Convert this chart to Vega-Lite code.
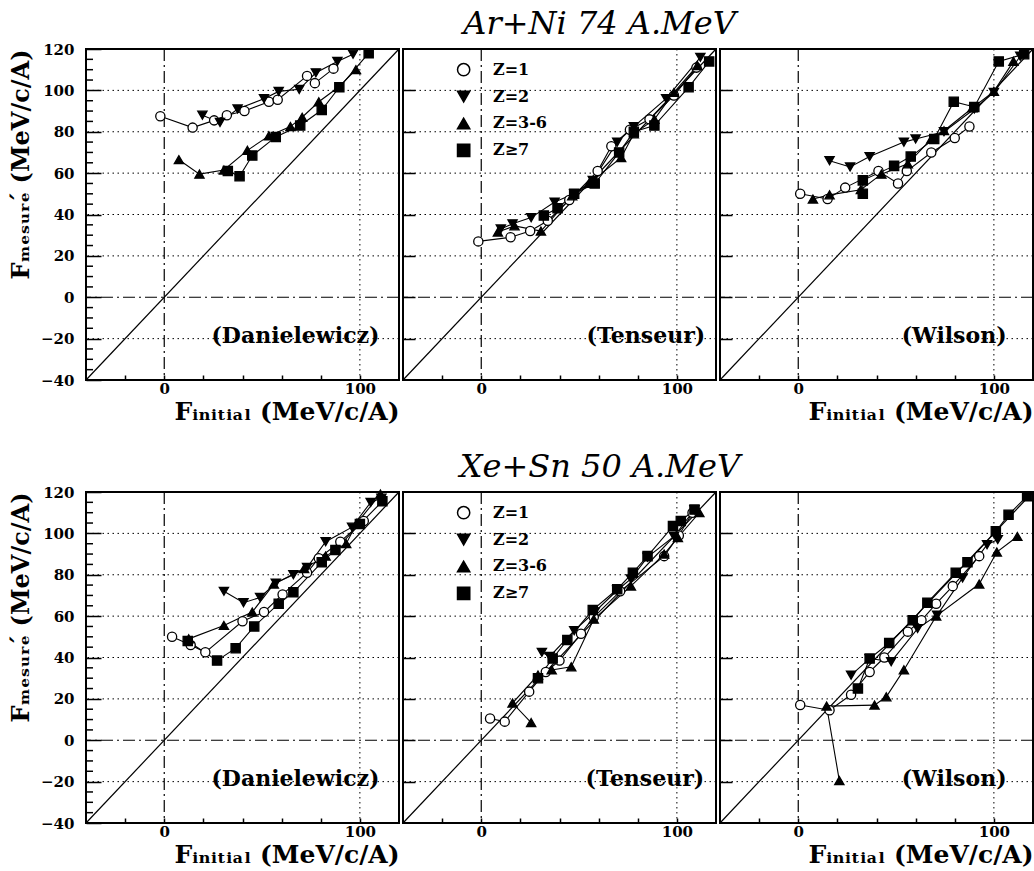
{
  "$schema": "https://vega.github.io/schema/vega-lite/v6.json",
  "background": "white",
  "padding": {"left": 8, "top": 8, "right": 0, "bottom": 0},
  "config": {
    "view": {"stroke": "black", "strokeWidth": 2},
    "concat": {"spacing": 0}
  },
  "datasets": {
    "grid": [
      {"dir": "h", "v": -20}, {"dir": "h", "v": 0}, {"dir": "h", "v": 20}, {"dir": "h", "v": 40},
      {"dir": "h", "v": 60}, {"dir": "h", "v": 80}, {"dir": "h", "v": 100},
      {"dir": "v", "v": 0}, {"dir": "v", "v": 100}
    ],
    "minor": [
      {"v": -35}, {"v": -30}, {"v": -25}, {"v": -15}, {"v": -10}, {"v": -5}, {"v": 5}, {"v": 10},
      {"v": 15}, {"v": 25}, {"v": 30}, {"v": 35}, {"v": 45}, {"v": 50}, {"v": 55}, {"v": 65},
      {"v": 70}, {"v": 75}, {"v": 85}, {"v": 90}, {"v": 95}, {"v": 105}, {"v": 110}, {"v": 115}
    ],
    "diag": [{"x": -40, "y": -40, "x2": 120, "y2": 120}],
    "methods": [
      {"r": "ArNi", "m": "D", "label": "(Danielewicz)", "x": 110, "y": -22},
      {"r": "ArNi", "m": "T", "label": "(Tenseur)", "x": 114.5, "y": -22},
      {"r": "ArNi", "m": "W", "label": "(Wilson)", "x": 106.5, "y": -22},
      {"r": "XeSn", "m": "D", "label": "(Danielewicz)", "x": 110, "y": -22},
      {"r": "XeSn", "m": "T", "label": "(Tenseur)", "x": 114, "y": -22},
      {"r": "XeSn", "m": "W", "label": "(Wilson)", "x": 106.5, "y": -22}
    ],
    "legend": [
      {"Z": "Z=1", "x": -9, "y": 110, "tx": 6},
      {"Z": "Z=2", "x": -9, "y": 97, "tx": 6},
      {"Z": "Z=3-6", "x": -9, "y": 84, "tx": 6},
      {"Z": "Z≥7", "x": -9, "y": 71, "tx": 6}
    ],
    "pts": [
      {"r":"ArNi","m":"D","Z":"Z=1","i":1,"x":-2,"y":87.5},{"r":"ArNi","m":"D","Z":"Z=1","i":2,"x":14.5,"y":82},{"r":"ArNi","m":"D","Z":"Z=1","i":3,"x":25.5,"y":85.5},{"r":"ArNi","m":"D","Z":"Z=1","i":4,"x":32,"y":88},{"r":"ArNi","m":"D","Z":"Z=1","i":5,"x":41,"y":90},{"r":"ArNi","m":"D","Z":"Z=1","i":6,"x":53.5,"y":94.5},{"r":"ArNi","m":"D","Z":"Z=1","i":7,"x":58,"y":95.5},{"r":"ArNi","m":"D","Z":"Z=1","i":8,"x":73,"y":107},{"r":"ArNi","m":"D","Z":"Z=1","i":9,"x":77,"y":103.5},{"r":"ArNi","m":"D","Z":"Z=1","i":10,"x":86.5,"y":110.5},
      {"r":"ArNi","m":"D","Z":"Z=2","i":1,"x":19.5,"y":88},{"r":"ArNi","m":"D","Z":"Z=2","i":2,"x":28.5,"y":84.5},{"r":"ArNi","m":"D","Z":"Z=2","i":3,"x":37.5,"y":91},{"r":"ArNi","m":"D","Z":"Z=2","i":4,"x":51,"y":96},{"r":"ArNi","m":"D","Z":"Z=2","i":5,"x":58.5,"y":99.5},{"r":"ArNi","m":"D","Z":"Z=2","i":6,"x":69,"y":100.5},{"r":"ArNi","m":"D","Z":"Z=2","i":7,"x":77.5,"y":108.5},{"r":"ArNi","m":"D","Z":"Z=2","i":8,"x":88.5,"y":114},{"r":"ArNi","m":"D","Z":"Z=2","i":9,"x":96.5,"y":117.5},
      {"r":"ArNi","m":"D","Z":"Z=3-6","i":1,"x":7.5,"y":66.5},{"r":"ArNi","m":"D","Z":"Z=3-6","i":2,"x":18,"y":59.5},{"r":"ArNi","m":"D","Z":"Z=3-6","i":3,"x":30.5,"y":61.5},{"r":"ArNi","m":"D","Z":"Z=3-6","i":4,"x":42.5,"y":71},{"r":"ArNi","m":"D","Z":"Z=3-6","i":5,"x":53.5,"y":78},{"r":"ArNi","m":"D","Z":"Z=3-6","i":6,"x":64.5,"y":82.5},{"r":"ArNi","m":"D","Z":"Z=3-6","i":7,"x":70.5,"y":87},{"r":"ArNi","m":"D","Z":"Z=3-6","i":8,"x":79,"y":94.5},{"r":"ArNi","m":"D","Z":"Z=3-6","i":9,"x":89,"y":101.5},{"r":"ArNi","m":"D","Z":"Z=3-6","i":10,"x":98,"y":110},
      {"r":"ArNi","m":"D","Z":"Z≥7","i":1,"x":32.5,"y":61},{"r":"ArNi","m":"D","Z":"Z≥7","i":2,"x":38.5,"y":58.5},{"r":"ArNi","m":"D","Z":"Z≥7","i":3,"x":45,"y":68.5},{"r":"ArNi","m":"D","Z":"Z≥7","i":4,"x":57,"y":77.5},{"r":"ArNi","m":"D","Z":"Z≥7","i":5,"x":69.5,"y":83},{"r":"ArNi","m":"D","Z":"Z≥7","i":6,"x":80.5,"y":90.5},{"r":"ArNi","m":"D","Z":"Z≥7","i":7,"x":89.5,"y":101.5},{"r":"ArNi","m":"D","Z":"Z≥7","i":8,"x":104.5,"y":118},

      {"r":"ArNi","m":"T","Z":"Z=1","i":1,"x":-1.5,"y":27},{"r":"ArNi","m":"T","Z":"Z=1","i":2,"x":15,"y":29},{"r":"ArNi","m":"T","Z":"Z=1","i":3,"x":25,"y":32},{"r":"ArNi","m":"T","Z":"Z=1","i":4,"x":34,"y":37},{"r":"ArNi","m":"T","Z":"Z=1","i":5,"x":45,"y":47},{"r":"ArNi","m":"T","Z":"Z=1","i":6,"x":59.5,"y":61},{"r":"ArNi","m":"T","Z":"Z=1","i":7,"x":66.5,"y":73},{"r":"ArNi","m":"T","Z":"Z=1","i":8,"x":76,"y":81},{"r":"ArNi","m":"T","Z":"Z=1","i":9,"x":86,"y":86},{"r":"ArNi","m":"T","Z":"Z=1","i":10,"x":98.5,"y":97.5},{"r":"ArNi","m":"T","Z":"Z=1","i":11,"x":110,"y":111},
      {"r":"ArNi","m":"T","Z":"Z=2","i":1,"x":10,"y":33},{"r":"ArNi","m":"T","Z":"Z=2","i":2,"x":16,"y":35.5},{"r":"ArNi","m":"T","Z":"Z=2","i":3,"x":25.5,"y":38.5},{"r":"ArNi","m":"T","Z":"Z=2","i":4,"x":37.5,"y":46},{"r":"ArNi","m":"T","Z":"Z=2","i":5,"x":47.5,"y":50},{"r":"ArNi","m":"T","Z":"Z=2","i":6,"x":57,"y":56.5},{"r":"ArNi","m":"T","Z":"Z=2","i":7,"x":69.5,"y":75},{"r":"ArNi","m":"T","Z":"Z=2","i":8,"x":78,"y":82.5},{"r":"ArNi","m":"T","Z":"Z=2","i":9,"x":94.5,"y":96},{"r":"ArNi","m":"T","Z":"Z=2","i":10,"x":112,"y":116},
      {"r":"ArNi","m":"T","Z":"Z=3-6","i":1,"x":8.5,"y":31.5},{"r":"ArNi","m":"T","Z":"Z=3-6","i":2,"x":17,"y":34.5},{"r":"ArNi","m":"T","Z":"Z=3-6","i":3,"x":30.5,"y":32},{"r":"ArNi","m":"T","Z":"Z=3-6","i":4,"x":46.5,"y":49},{"r":"ArNi","m":"T","Z":"Z=3-6","i":5,"x":55,"y":55},{"r":"ArNi","m":"T","Z":"Z=3-6","i":6,"x":71.5,"y":67.5},{"r":"ArNi","m":"T","Z":"Z=3-6","i":7,"x":78,"y":79},{"r":"ArNi","m":"T","Z":"Z=3-6","i":8,"x":88.5,"y":86},{"r":"ArNi","m":"T","Z":"Z=3-6","i":9,"x":98.5,"y":99},{"r":"ArNi","m":"T","Z":"Z=3-6","i":10,"x":110.5,"y":112},
      {"r":"ArNi","m":"T","Z":"Z≥7","i":1,"x":32,"y":39.5},{"r":"ArNi","m":"T","Z":"Z≥7","i":2,"x":39,"y":43},{"r":"ArNi","m":"T","Z":"Z≥7","i":3,"x":47.5,"y":50},{"r":"ArNi","m":"T","Z":"Z≥7","i":4,"x":58,"y":55},{"r":"ArNi","m":"T","Z":"Z≥7","i":5,"x":70.5,"y":70},{"r":"ArNi","m":"T","Z":"Z≥7","i":6,"x":78,"y":80},{"r":"ArNi","m":"T","Z":"Z≥7","i":7,"x":88.5,"y":83},{"r":"ArNi","m":"T","Z":"Z≥7","i":8,"x":106,"y":101.5},{"r":"ArNi","m":"T","Z":"Z≥7","i":9,"x":116.5,"y":114},

      {"r":"ArNi","m":"W","Z":"Z=1","i":1,"x":1,"y":50},{"r":"ArNi","m":"W","Z":"Z=1","i":2,"x":15,"y":47.5},{"r":"ArNi","m":"W","Z":"Z=1","i":3,"x":24,"y":53},{"r":"ArNi","m":"W","Z":"Z=1","i":4,"x":41,"y":61},{"r":"ArNi","m":"W","Z":"Z=1","i":5,"x":51,"y":55},{"r":"ArNi","m":"W","Z":"Z=1","i":6,"x":55.5,"y":61},{"r":"ArNi","m":"W","Z":"Z=1","i":7,"x":68,"y":70},{"r":"ArNi","m":"W","Z":"Z=1","i":8,"x":80,"y":77},{"r":"ArNi","m":"W","Z":"Z=1","i":9,"x":87.5,"y":82.5},
      {"r":"ArNi","m":"W","Z":"Z=2","i":1,"x":16,"y":66},{"r":"ArNi","m":"W","Z":"Z=2","i":2,"x":26.5,"y":63},{"r":"ArNi","m":"W","Z":"Z=2","i":3,"x":36.5,"y":68},{"r":"ArNi","m":"W","Z":"Z=2","i":4,"x":54,"y":75},{"r":"ArNi","m":"W","Z":"Z=2","i":5,"x":60,"y":76.5},{"r":"ArNi","m":"W","Z":"Z=2","i":6,"x":74.5,"y":80},{"r":"ArNi","m":"W","Z":"Z=2","i":7,"x":90,"y":91},{"r":"ArNi","m":"W","Z":"Z=2","i":8,"x":100,"y":99},{"r":"ArNi","m":"W","Z":"Z=2","i":9,"x":113.5,"y":116.5},
      {"r":"ArNi","m":"W","Z":"Z=3-6","i":1,"x":7.5,"y":47.5},{"r":"ArNi","m":"W","Z":"Z=3-6","i":2,"x":16,"y":49.5},{"r":"ArNi","m":"W","Z":"Z=3-6","i":3,"x":32,"y":52},{"r":"ArNi","m":"W","Z":"Z=3-6","i":4,"x":42.5,"y":59.5},{"r":"ArNi","m":"W","Z":"Z=3-6","i":5,"x":56,"y":64.5},{"r":"ArNi","m":"W","Z":"Z=3-6","i":6,"x":68,"y":76.5},{"r":"ArNi","m":"W","Z":"Z=3-6","i":7,"x":74.5,"y":80.5},{"r":"ArNi","m":"W","Z":"Z=3-6","i":8,"x":89,"y":91.5},{"r":"ArNi","m":"W","Z":"Z=3-6","i":9,"x":100,"y":99.5},{"r":"ArNi","m":"W","Z":"Z=3-6","i":10,"x":110,"y":114},
      {"r":"ArNi","m":"W","Z":"Z≥7","i":1,"x":33,"y":50},{"r":"ArNi","m":"W","Z":"Z≥7","i":2,"x":33,"y":56.5},{"r":"ArNi","m":"W","Z":"Z≥7","i":3,"x":49,"y":63.5},{"r":"ArNi","m":"W","Z":"Z≥7","i":4,"x":57.5,"y":68},{"r":"ArNi","m":"W","Z":"Z≥7","i":5,"x":69.5,"y":76.5},{"r":"ArNi","m":"W","Z":"Z≥7","i":6,"x":79.5,"y":94.5},{"r":"ArNi","m":"W","Z":"Z≥7","i":7,"x":90,"y":92},{"r":"ArNi","m":"W","Z":"Z≥7","i":8,"x":102.5,"y":114},{"r":"ArNi","m":"W","Z":"Z≥7","i":9,"x":115.5,"y":117.5},

      {"r":"XeSn","m":"D","Z":"Z=1","i":1,"x":4,"y":50},{"r":"XeSn","m":"D","Z":"Z=1","i":2,"x":13.5,"y":46},{"r":"XeSn","m":"D","Z":"Z=1","i":3,"x":21,"y":42.5},{"r":"XeSn","m":"D","Z":"Z=1","i":4,"x":40,"y":57.5},{"r":"XeSn","m":"D","Z":"Z=1","i":5,"x":51,"y":62},{"r":"XeSn","m":"D","Z":"Z=1","i":6,"x":60.5,"y":70.5},{"r":"XeSn","m":"D","Z":"Z=1","i":7,"x":73,"y":81},{"r":"XeSn","m":"D","Z":"Z=1","i":8,"x":79,"y":88},{"r":"XeSn","m":"D","Z":"Z=1","i":9,"x":90,"y":96},{"r":"XeSn","m":"D","Z":"Z=1","i":10,"x":102,"y":106},
      {"r":"XeSn","m":"D","Z":"Z=2","i":1,"x":30.5,"y":72},{"r":"XeSn","m":"D","Z":"Z=2","i":2,"x":40.5,"y":66.5},{"r":"XeSn","m":"D","Z":"Z=2","i":3,"x":49,"y":69},{"r":"XeSn","m":"D","Z":"Z=2","i":4,"x":57,"y":76},{"r":"XeSn","m":"D","Z":"Z=2","i":5,"x":66,"y":80},{"r":"XeSn","m":"D","Z":"Z=2","i":6,"x":73,"y":83.5},{"r":"XeSn","m":"D","Z":"Z=2","i":7,"x":82.5,"y":96},{"r":"XeSn","m":"D","Z":"Z=2","i":8,"x":96,"y":103},{"r":"XeSn","m":"D","Z":"Z=2","i":9,"x":105.5,"y":115},{"r":"XeSn","m":"D","Z":"Z=2","i":10,"x":111,"y":117},
      {"r":"XeSn","m":"D","Z":"Z=3-6","i":1,"x":12.5,"y":49},{"r":"XeSn","m":"D","Z":"Z=3-6","i":2,"x":30.5,"y":55.5},{"r":"XeSn","m":"D","Z":"Z=3-6","i":3,"x":45,"y":62},{"r":"XeSn","m":"D","Z":"Z=3-6","i":4,"x":56,"y":75.5},{"r":"XeSn","m":"D","Z":"Z=3-6","i":5,"x":71.5,"y":83},{"r":"XeSn","m":"D","Z":"Z=3-6","i":6,"x":82.5,"y":89},{"r":"XeSn","m":"D","Z":"Z=3-6","i":7,"x":93,"y":95},{"r":"XeSn","m":"D","Z":"Z=3-6","i":8,"x":98.5,"y":105},{"r":"XeSn","m":"D","Z":"Z=3-6","i":9,"x":110.5,"y":119},
      {"r":"XeSn","m":"D","Z":"Z≥7","i":1,"x":12,"y":48},{"r":"XeSn","m":"D","Z":"Z≥7","i":2,"x":27,"y":38.5},{"r":"XeSn","m":"D","Z":"Z≥7","i":3,"x":36.5,"y":44.5},{"r":"XeSn","m":"D","Z":"Z≥7","i":4,"x":46,"y":55},{"r":"XeSn","m":"D","Z":"Z≥7","i":5,"x":58.5,"y":66},{"r":"XeSn","m":"D","Z":"Z≥7","i":6,"x":66,"y":71.5},{"r":"XeSn","m":"D","Z":"Z≥7","i":7,"x":80.5,"y":86},{"r":"XeSn","m":"D","Z":"Z≥7","i":8,"x":87.5,"y":92},{"r":"XeSn","m":"D","Z":"Z≥7","i":9,"x":100,"y":104.5},{"r":"XeSn","m":"D","Z":"Z≥7","i":10,"x":111.5,"y":115.5},

      {"r":"XeSn","m":"T","Z":"Z=1","i":1,"x":4.5,"y":10.5},{"r":"XeSn","m":"T","Z":"Z=1","i":2,"x":12,"y":9},{"r":"XeSn","m":"T","Z":"Z=1","i":3,"x":24.5,"y":23.5},{"r":"XeSn","m":"T","Z":"Z=1","i":4,"x":33,"y":33},{"r":"XeSn","m":"T","Z":"Z=1","i":5,"x":40,"y":38.5},{"r":"XeSn","m":"T","Z":"Z=1","i":6,"x":51,"y":51.5},{"r":"XeSn","m":"T","Z":"Z=1","i":7,"x":57.5,"y":59.5},{"r":"XeSn","m":"T","Z":"Z=1","i":8,"x":71,"y":72},{"r":"XeSn","m":"T","Z":"Z=1","i":9,"x":93.5,"y":89},{"r":"XeSn","m":"T","Z":"Z=1","i":10,"x":101,"y":99},{"r":"XeSn","m":"T","Z":"Z=1","i":11,"x":108,"y":110},
      {"r":"XeSn","m":"T","Z":"Z=2","i":1,"x":31,"y":42.5},{"r":"XeSn","m":"T","Z":"Z=2","i":2,"x":35,"y":40.5},{"r":"XeSn","m":"T","Z":"Z=2","i":3,"x":47.5,"y":53},{"r":"XeSn","m":"T","Z":"Z=2","i":4,"x":58,"y":62},{"r":"XeSn","m":"T","Z":"Z=2","i":5,"x":69.5,"y":72.5},{"r":"XeSn","m":"T","Z":"Z=2","i":6,"x":76.5,"y":78},{"r":"XeSn","m":"T","Z":"Z=2","i":7,"x":85,"y":88.5},{"r":"XeSn","m":"T","Z":"Z=2","i":8,"x":98.5,"y":98.5},{"r":"XeSn","m":"T","Z":"Z=2","i":9,"x":109,"y":111.5},
      {"r":"XeSn","m":"T","Z":"Z=3-6","i":1,"x":25.5,"y":8.5},{"r":"XeSn","m":"T","Z":"Z=3-6","i":2,"x":16,"y":18},{"r":"XeSn","m":"T","Z":"Z=3-6","i":3,"x":29,"y":31.5},{"r":"XeSn","m":"T","Z":"Z=3-6","i":4,"x":36,"y":34},{"r":"XeSn","m":"T","Z":"Z=3-6","i":5,"x":46,"y":35.5},{"r":"XeSn","m":"T","Z":"Z=3-6","i":6,"x":57.5,"y":58.5},{"r":"XeSn","m":"T","Z":"Z=3-6","i":7,"x":76.5,"y":74.5},{"r":"XeSn","m":"T","Z":"Z=3-6","i":8,"x":93.5,"y":90},{"r":"XeSn","m":"T","Z":"Z=3-6","i":9,"x":100.5,"y":98},{"r":"XeSn","m":"T","Z":"Z=3-6","i":10,"x":111.5,"y":110},
      {"r":"XeSn","m":"T","Z":"Z≥7","i":1,"x":29,"y":30},{"r":"XeSn","m":"T","Z":"Z≥7","i":2,"x":36.5,"y":39.5},{"r":"XeSn","m":"T","Z":"Z≥7","i":3,"x":44,"y":48.5},{"r":"XeSn","m":"T","Z":"Z≥7","i":4,"x":57,"y":63},{"r":"XeSn","m":"T","Z":"Z≥7","i":5,"x":69.5,"y":73},{"r":"XeSn","m":"T","Z":"Z≥7","i":6,"x":77.5,"y":81},{"r":"XeSn","m":"T","Z":"Z≥7","i":7,"x":85,"y":89},{"r":"XeSn","m":"T","Z":"Z≥7","i":8,"x":98,"y":103.5},{"r":"XeSn","m":"T","Z":"Z≥7","i":9,"x":102,"y":106},{"r":"XeSn","m":"T","Z":"Z≥7","i":10,"x":109,"y":111.5},

      {"r":"XeSn","m":"W","Z":"Z=1","i":1,"x":1,"y":17},{"r":"XeSn","m":"W","Z":"Z=1","i":2,"x":16,"y":14.5},{"r":"XeSn","m":"W","Z":"Z=1","i":3,"x":27,"y":22},{"r":"XeSn","m":"W","Z":"Z=1","i":4,"x":36.5,"y":33},{"r":"XeSn","m":"W","Z":"Z=1","i":5,"x":44,"y":40},{"r":"XeSn","m":"W","Z":"Z=1","i":6,"x":56,"y":52.5},{"r":"XeSn","m":"W","Z":"Z=1","i":7,"x":63,"y":58},{"r":"XeSn","m":"W","Z":"Z=1","i":8,"x":70.5,"y":66},{"r":"XeSn","m":"W","Z":"Z=1","i":9,"x":79,"y":74.5},{"r":"XeSn","m":"W","Z":"Z=1","i":10,"x":92.5,"y":89},
      {"r":"XeSn","m":"W","Z":"Z=2","i":1,"x":27,"y":31.5},{"r":"XeSn","m":"W","Z":"Z=2","i":2,"x":36.5,"y":39.5},{"r":"XeSn","m":"W","Z":"Z=2","i":3,"x":47.5,"y":38},{"r":"XeSn","m":"W","Z":"Z=2","i":4,"x":61,"y":54},{"r":"XeSn","m":"W","Z":"Z=2","i":5,"x":71,"y":60.5},{"r":"XeSn","m":"W","Z":"Z=2","i":6,"x":84,"y":78.5},{"r":"XeSn","m":"W","Z":"Z=2","i":7,"x":96.5,"y":94.5},{"r":"XeSn","m":"W","Z":"Z=2","i":8,"x":102,"y":97},
      {"r":"XeSn","m":"W","Z":"Z=3-6","i":1,"x":21,"y":-19.5},{"r":"XeSn","m":"W","Z":"Z=3-6","i":2,"x":14.5,"y":16.5},{"r":"XeSn","m":"W","Z":"Z=3-6","i":3,"x":39,"y":17},{"r":"XeSn","m":"W","Z":"Z=3-6","i":4,"x":45,"y":21},{"r":"XeSn","m":"W","Z":"Z=3-6","i":5,"x":54,"y":34},{"r":"XeSn","m":"W","Z":"Z=3-6","i":6,"x":70.5,"y":60},{"r":"XeSn","m":"W","Z":"Z=3-6","i":7,"x":92.5,"y":75.5},{"r":"XeSn","m":"W","Z":"Z=3-6","i":8,"x":101.5,"y":91},{"r":"XeSn","m":"W","Z":"Z=3-6","i":9,"x":112,"y":98.5},
      {"r":"XeSn","m":"W","Z":"Z≥7","i":1,"x":30.5,"y":25},{"r":"XeSn","m":"W","Z":"Z≥7","i":2,"x":36.5,"y":39.5},{"r":"XeSn","m":"W","Z":"Z≥7","i":3,"x":46.5,"y":47},{"r":"XeSn","m":"W","Z":"Z≥7","i":4,"x":58.5,"y":58},{"r":"XeSn","m":"W","Z":"Z≥7","i":5,"x":66,"y":66.5},{"r":"XeSn","m":"W","Z":"Z≥7","i":6,"x":80.5,"y":81},{"r":"XeSn","m":"W","Z":"Z≥7","i":7,"x":86.5,"y":86},{"r":"XeSn","m":"W","Z":"Z≥7","i":8,"x":101,"y":101},{"r":"XeSn","m":"W","Z":"Z≥7","i":9,"x":107.5,"y":109},{"r":"XeSn","m":"W","Z":"Z≥7","i":10,"x":117,"y":118}
    ]
  },
  "spacing": 26,
  "vconcat": [
    {
      "title": {"text": "Ar+Ni 74 A.MeV", "font": "DejaVu Serif", "fontStyle": "italic", "fontWeight": "normal", "fontSize": 32, "color": "black", "anchor": "middle", "frame": "bounds", "dx": 78, "offset": 0},
      "spacing": 0,
      "hconcat": [
        {
          "width": 313, "height": 331,
          "layer": [
            {"data": {"name": "grid"}, "transform": [{"filter": "datum.dir == 'h' && datum.v != 0"}], "mark": {"type": "rule", "color": "black", "strokeWidth": 1, "strokeDash": [1.5, 3.5]},
             "encoding": {"y": {"field": "v", "type": "quantitative", "scale": {"domain": [-40, 120], "nice": false, "zero": false},
               "axis": {"values": [-40, -20, 0, 20, 40, 60, 80, 100, 120], "tickSize": -15, "tickWidth": 1.5, "tickColor": "black", "labelPadding": 27, "labelFont": "DejaVu Serif", "labelFontWeight": "bold", "labelFontSize": 15, "labelColor": "black", "labelFlush": false, "labelOverlap": false, "domain": false, "grid": false, "title": "Fₘₑₛᵤᵣₑ́ (MeV/c/A)", "titleFont": "DejaVu Serif", "titleFontWeight": "bold", "titleFontSize": 24, "titleColor": "black", "titleAnchor": "end", "titlePadding": 7}}}},
            {"data": {"name": "grid"}, "transform": [{"filter": "datum.dir == 'v' && datum.v != 0"}], "mark": {"type": "rule", "color": "black", "strokeWidth": 1, "strokeDash": [1.5, 3.5]},
             "encoding": {"x": {"field": "v", "type": "quantitative", "scale": {"domain": [-40, 120], "nice": false, "zero": false},
               "axis": {"values": [-20, 0, 20, 40, 60, 80, 100], "tickSize": -5, "tickWidth": 1.5, "tickColor": "black", "labelPadding": 6, "labelExpr": "datum.value == 0 || datum.value == 100 ? datum.label : ''", "labelFont": "DejaVu Serif", "labelFontWeight": "bold", "labelFontSize": 15, "labelColor": "black", "labelFlush": false, "labelOverlap": false, "domain": false, "grid": false, "title": "Fᵢₙᵢₜᵢₐₗ (MeV/c/A)", "titleFont": "DejaVu Serif", "titleFontWeight": "bold", "titleFontSize": 25, "titleColor": "black", "titleAnchor": "end", "titlePadding": 3}}}},
            {"data": {"name": "grid"}, "transform": [{"filter": "datum.dir == 'h' && datum.v == 0"}], "mark": {"type": "rule", "color": "black", "strokeWidth": 1.2, "strokeDash": [12, 4, 2, 4]}, "encoding": {"y": {"field": "v", "type": "quantitative"}}},
            {"data": {"name": "grid"}, "transform": [{"filter": "datum.dir == 'v' && datum.v == 0"}], "mark": {"type": "rule", "color": "black", "strokeWidth": 1.2, "strokeDash": [12, 4, 2, 4]}, "encoding": {"x": {"field": "v", "type": "quantitative"}}},
            {"data": {"name": "minor"}, "mark": {"type": "tick", "orient": "horizontal", "size": 14, "thickness": 1.5, "color": "black", "clip": true, "opacity": 1}, "encoding": {"y": {"field": "v", "type": "quantitative"}, "x": {"datum": -40, "type": "quantitative"}}},
            {"data": {"name": "diag"}, "mark": {"type": "rule", "color": "black", "strokeWidth": 1.2}, "encoding": {"x": {"field": "x", "type": "quantitative"}, "y": {"field": "y", "type": "quantitative"}, "x2": {"field": "x2"}, "y2": {"field": "y2"}}},
            {"data": {"name": "pts"}, "transform": [{"filter": "datum.r == 'ArNi' && datum.m == 'D'"}], "mark": {"type": "line", "color": "black", "strokeWidth": 1.1}, "encoding": {"x": {"field": "x", "type": "quantitative"}, "y": {"field": "y", "type": "quantitative"}, "detail": {"field": "Z"}, "order": {"field": "i", "type": "quantitative"}}},
            {"data": {"name": "pts"}, "transform": [{"filter": "datum.r == 'ArNi' && datum.m == 'D'"}], "mark": {"type": "point", "stroke": "black", "strokeWidth": 1.3, "size": 85, "opacity": 1}, "encoding": {"x": {"field": "x", "type": "quantitative"}, "y": {"field": "y", "type": "quantitative"}, "shape": {"field": "Z", "type": "nominal", "scale": {"domain": ["Z=1", "Z=2", "Z=3-6", "Z≥7"], "range": ["circle", "triangle-down", "triangle-up", "square"]}, "legend": null}, "fill": {"field": "Z", "type": "nominal", "scale": {"domain": ["Z=1", "Z=2", "Z=3-6", "Z≥7"], "range": ["white", "black", "black", "black"]}, "legend": null}}},
            {"data": {"name": "methods"}, "transform": [{"filter": "datum.r == 'ArNi' && datum.m == 'D'"}], "mark": {"type": "text", "font": "DejaVu Serif", "fontWeight": "bold", "fontSize": 22, "align": "right", "baseline": "alphabetic", "color": "black"}, "encoding": {"x": {"field": "x", "type": "quantitative"}, "y": {"field": "y", "type": "quantitative"}, "text": {"field": "label"}}}
          ]
        },
        {
          "width": 313, "height": 331,
          "layer": [
            {"data": {"name": "grid"}, "transform": [{"filter": "datum.dir == 'h' && datum.v != 0"}], "mark": {"type": "rule", "color": "black", "strokeWidth": 1, "strokeDash": [1.5, 3.5]},
             "encoding": {"y": {"field": "v", "type": "quantitative", "scale": {"domain": [-40, 120], "nice": false, "zero": false},
               "axis": {"values": [-20, 0, 20, 40, 60, 80, 100], "tickSize": -12, "tickWidth": 1.5, "tickColor": "black", "labels": false, "domain": false, "grid": false, "title": null}}}},
            {"data": {"name": "grid"}, "transform": [{"filter": "datum.dir == 'v' && datum.v != 0"}], "mark": {"type": "rule", "color": "black", "strokeWidth": 1, "strokeDash": [1.5, 3.5]},
             "encoding": {"x": {"field": "v", "type": "quantitative", "scale": {"domain": [-40, 120], "nice": false, "zero": false},
               "axis": {"values": [-20, 0, 20, 40, 60, 80, 100], "tickSize": -5, "tickWidth": 1.5, "tickColor": "black", "labelPadding": 6, "labelExpr": "datum.value == 0 || datum.value == 100 ? datum.label : ''", "labelFont": "DejaVu Serif", "labelFontWeight": "bold", "labelFontSize": 15, "labelColor": "black", "labelFlush": false, "labelOverlap": false, "domain": false, "grid": false, "title": null}}}},
            {"data": {"name": "grid"}, "transform": [{"filter": "datum.dir == 'h' && datum.v == 0"}], "mark": {"type": "rule", "color": "black", "strokeWidth": 1.2, "strokeDash": [12, 4, 2, 4]}, "encoding": {"y": {"field": "v", "type": "quantitative"}}},
            {"data": {"name": "grid"}, "transform": [{"filter": "datum.dir == 'v' && datum.v == 0"}], "mark": {"type": "rule", "color": "black", "strokeWidth": 1.2, "strokeDash": [12, 4, 2, 4]}, "encoding": {"x": {"field": "v", "type": "quantitative"}}},
            {"data": {"name": "diag"}, "mark": {"type": "rule", "color": "black", "strokeWidth": 1.2}, "encoding": {"x": {"field": "x", "type": "quantitative"}, "y": {"field": "y", "type": "quantitative"}, "x2": {"field": "x2"}, "y2": {"field": "y2"}}},
            {"data": {"name": "pts"}, "transform": [{"filter": "datum.r == 'ArNi' && datum.m == 'T'"}], "mark": {"type": "line", "color": "black", "strokeWidth": 1.1}, "encoding": {"x": {"field": "x", "type": "quantitative"}, "y": {"field": "y", "type": "quantitative"}, "detail": {"field": "Z"}, "order": {"field": "i", "type": "quantitative"}}},
            {"data": {"name": "pts"}, "transform": [{"filter": "datum.r == 'ArNi' && datum.m == 'T'"}], "mark": {"type": "point", "stroke": "black", "strokeWidth": 1.3, "size": 85, "opacity": 1}, "encoding": {"x": {"field": "x", "type": "quantitative"}, "y": {"field": "y", "type": "quantitative"}, "shape": {"field": "Z", "type": "nominal", "scale": {"domain": ["Z=1", "Z=2", "Z=3-6", "Z≥7"], "range": ["circle", "triangle-down", "triangle-up", "square"]}, "legend": null}, "fill": {"field": "Z", "type": "nominal", "scale": {"domain": ["Z=1", "Z=2", "Z=3-6", "Z≥7"], "range": ["white", "black", "black", "black"]}, "legend": null}}},
            {"data": {"name": "legend"}, "mark": {"type": "point", "stroke": "black", "strokeWidth": 1.5, "size": 150, "opacity": 1}, "encoding": {"x": {"field": "x", "type": "quantitative"}, "y": {"field": "y", "type": "quantitative"}, "shape": {"field": "Z", "type": "nominal", "legend": null}, "fill": {"field": "Z", "type": "nominal", "legend": null}}},
            {"data": {"name": "legend"}, "mark": {"type": "text", "font": "DejaVu Serif", "fontWeight": "bold", "fontSize": 16, "align": "left", "baseline": "middle", "color": "black"}, "encoding": {"x": {"field": "tx", "type": "quantitative"}, "y": {"field": "y", "type": "quantitative"}, "text": {"field": "Z"}}},
            {"data": {"name": "methods"}, "transform": [{"filter": "datum.r == 'ArNi' && datum.m == 'T'"}], "mark": {"type": "text", "font": "DejaVu Serif", "fontWeight": "bold", "fontSize": 22, "align": "right", "baseline": "alphabetic", "color": "black"}, "encoding": {"x": {"field": "x", "type": "quantitative"}, "y": {"field": "y", "type": "quantitative"}, "text": {"field": "label"}}}
          ]
        },
        {
          "width": 313, "height": 331,
          "layer": [
            {"data": {"name": "grid"}, "transform": [{"filter": "datum.dir == 'h' && datum.v != 0"}], "mark": {"type": "rule", "color": "black", "strokeWidth": 1, "strokeDash": [1.5, 3.5]},
             "encoding": {"y": {"field": "v", "type": "quantitative", "scale": {"domain": [-40, 120], "nice": false, "zero": false},
               "axis": {"values": [-20, 0, 20, 40, 60, 80, 100], "tickSize": -12, "tickWidth": 1.5, "tickColor": "black", "labels": false, "domain": false, "grid": false, "title": null}}}},
            {"data": {"name": "grid"}, "transform": [{"filter": "datum.dir == 'v' && datum.v != 0"}], "mark": {"type": "rule", "color": "black", "strokeWidth": 1, "strokeDash": [1.5, 3.5]},
             "encoding": {"x": {"field": "v", "type": "quantitative", "scale": {"domain": [-40, 120], "nice": false, "zero": false},
               "axis": {"values": [-20, 0, 20, 40, 60, 80, 100], "tickSize": -5, "tickWidth": 1.5, "tickColor": "black", "labelPadding": 6, "labelExpr": "datum.value == 0 || datum.value == 100 ? datum.label : ''", "labelFont": "DejaVu Serif", "labelFontWeight": "bold", "labelFontSize": 15, "labelColor": "black", "labelFlush": false, "labelOverlap": false, "domain": false, "grid": false, "title": "Fᵢₙᵢₜᵢₐₗ (MeV/c/A)", "titleFont": "DejaVu Serif", "titleFontWeight": "bold", "titleFontSize": 25, "titleColor": "black", "titleAnchor": "end", "titlePadding": 3}}}},
            {"data": {"name": "grid"}, "transform": [{"filter": "datum.dir == 'h' && datum.v == 0"}], "mark": {"type": "rule", "color": "black", "strokeWidth": 1.2, "strokeDash": [12, 4, 2, 4]}, "encoding": {"y": {"field": "v", "type": "quantitative"}}},
            {"data": {"name": "grid"}, "transform": [{"filter": "datum.dir == 'v' && datum.v == 0"}], "mark": {"type": "rule", "color": "black", "strokeWidth": 1.2, "strokeDash": [12, 4, 2, 4]}, "encoding": {"x": {"field": "v", "type": "quantitative"}}},
            {"data": {"name": "diag"}, "mark": {"type": "rule", "color": "black", "strokeWidth": 1.2}, "encoding": {"x": {"field": "x", "type": "quantitative"}, "y": {"field": "y", "type": "quantitative"}, "x2": {"field": "x2"}, "y2": {"field": "y2"}}},
            {"data": {"name": "pts"}, "transform": [{"filter": "datum.r == 'ArNi' && datum.m == 'W'"}], "mark": {"type": "line", "color": "black", "strokeWidth": 1.1}, "encoding": {"x": {"field": "x", "type": "quantitative"}, "y": {"field": "y", "type": "quantitative"}, "detail": {"field": "Z"}, "order": {"field": "i", "type": "quantitative"}}},
            {"data": {"name": "pts"}, "transform": [{"filter": "datum.r == 'ArNi' && datum.m == 'W'"}], "mark": {"type": "point", "stroke": "black", "strokeWidth": 1.3, "size": 85, "opacity": 1}, "encoding": {"x": {"field": "x", "type": "quantitative"}, "y": {"field": "y", "type": "quantitative"}, "shape": {"field": "Z", "type": "nominal", "scale": {"domain": ["Z=1", "Z=2", "Z=3-6", "Z≥7"], "range": ["circle", "triangle-down", "triangle-up", "square"]}, "legend": null}, "fill": {"field": "Z", "type": "nominal", "scale": {"domain": ["Z=1", "Z=2", "Z=3-6", "Z≥7"], "range": ["white", "black", "black", "black"]}, "legend": null}}},
            {"data": {"name": "methods"}, "transform": [{"filter": "datum.r == 'ArNi' && datum.m == 'W'"}], "mark": {"type": "text", "font": "DejaVu Serif", "fontWeight": "bold", "fontSize": 22, "align": "right", "baseline": "alphabetic", "color": "black"}, "encoding": {"x": {"field": "x", "type": "quantitative"}, "y": {"field": "y", "type": "quantitative"}, "text": {"field": "label"}}}
          ]
        }
      ]
    },
    {
      "title": {"text": "Xe+Sn 50 A.MeV", "font": "DejaVu Serif", "fontStyle": "italic", "fontWeight": "normal", "fontSize": 32, "color": "black", "anchor": "middle", "frame": "bounds", "dx": 78, "offset": 0},
      "spacing": 0,
      "hconcat": [
        {
          "width": 313, "height": 331,
          "layer": [
            {"data": {"name": "grid"}, "transform": [{"filter": "datum.dir == 'h' && datum.v != 0"}], "mark": {"type": "rule", "color": "black", "strokeWidth": 1, "strokeDash": [1.5, 3.5]},
             "encoding": {"y": {"field": "v", "type": "quantitative", "scale": {"domain": [-40, 120], "nice": false, "zero": false},
               "axis": {"values": [-40, -20, 0, 20, 40, 60, 80, 100, 120], "tickSize": -15, "tickWidth": 1.5, "tickColor": "black", "labelPadding": 27, "labelFont": "DejaVu Serif", "labelFontWeight": "bold", "labelFontSize": 15, "labelColor": "black", "labelFlush": false, "labelOverlap": false, "domain": false, "grid": false, "title": "Fₘₑₛᵤᵣₑ́ (MeV/c/A)", "titleFont": "DejaVu Serif", "titleFontWeight": "bold", "titleFontSize": 24, "titleColor": "black", "titleAnchor": "end", "titlePadding": 7}}}},
            {"data": {"name": "grid"}, "transform": [{"filter": "datum.dir == 'v' && datum.v != 0"}], "mark": {"type": "rule", "color": "black", "strokeWidth": 1, "strokeDash": [1.5, 3.5]},
             "encoding": {"x": {"field": "v", "type": "quantitative", "scale": {"domain": [-40, 120], "nice": false, "zero": false},
               "axis": {"values": [-20, 0, 20, 40, 60, 80, 100], "tickSize": -5, "tickWidth": 1.5, "tickColor": "black", "labelPadding": 6, "labelExpr": "datum.value == 0 || datum.value == 100 ? datum.label : ''", "labelFont": "DejaVu Serif", "labelFontWeight": "bold", "labelFontSize": 15, "labelColor": "black", "labelFlush": false, "labelOverlap": false, "domain": false, "grid": false, "title": "Fᵢₙᵢₜᵢₐₗ (MeV/c/A)", "titleFont": "DejaVu Serif", "titleFontWeight": "bold", "titleFontSize": 25, "titleColor": "black", "titleAnchor": "end", "titlePadding": 3}}}},
            {"data": {"name": "grid"}, "transform": [{"filter": "datum.dir == 'h' && datum.v == 0"}], "mark": {"type": "rule", "color": "black", "strokeWidth": 1.2, "strokeDash": [12, 4, 2, 4]}, "encoding": {"y": {"field": "v", "type": "quantitative"}}},
            {"data": {"name": "grid"}, "transform": [{"filter": "datum.dir == 'v' && datum.v == 0"}], "mark": {"type": "rule", "color": "black", "strokeWidth": 1.2, "strokeDash": [12, 4, 2, 4]}, "encoding": {"x": {"field": "v", "type": "quantitative"}}},
            {"data": {"name": "minor"}, "mark": {"type": "tick", "orient": "horizontal", "size": 14, "thickness": 1.5, "color": "black", "clip": true, "opacity": 1}, "encoding": {"y": {"field": "v", "type": "quantitative"}, "x": {"datum": -40, "type": "quantitative"}}},
            {"data": {"name": "diag"}, "mark": {"type": "rule", "color": "black", "strokeWidth": 1.2}, "encoding": {"x": {"field": "x", "type": "quantitative"}, "y": {"field": "y", "type": "quantitative"}, "x2": {"field": "x2"}, "y2": {"field": "y2"}}},
            {"data": {"name": "pts"}, "transform": [{"filter": "datum.r == 'XeSn' && datum.m == 'D'"}], "mark": {"type": "line", "color": "black", "strokeWidth": 1.1}, "encoding": {"x": {"field": "x", "type": "quantitative"}, "y": {"field": "y", "type": "quantitative"}, "detail": {"field": "Z"}, "order": {"field": "i", "type": "quantitative"}}},
            {"data": {"name": "pts"}, "transform": [{"filter": "datum.r == 'XeSn' && datum.m == 'D'"}], "mark": {"type": "point", "stroke": "black", "strokeWidth": 1.3, "size": 85, "opacity": 1}, "encoding": {"x": {"field": "x", "type": "quantitative"}, "y": {"field": "y", "type": "quantitative"}, "shape": {"field": "Z", "type": "nominal", "scale": {"domain": ["Z=1", "Z=2", "Z=3-6", "Z≥7"], "range": ["circle", "triangle-down", "triangle-up", "square"]}, "legend": null}, "fill": {"field": "Z", "type": "nominal", "scale": {"domain": ["Z=1", "Z=2", "Z=3-6", "Z≥7"], "range": ["white", "black", "black", "black"]}, "legend": null}}},
            {"data": {"name": "methods"}, "transform": [{"filter": "datum.r == 'XeSn' && datum.m == 'D'"}], "mark": {"type": "text", "font": "DejaVu Serif", "fontWeight": "bold", "fontSize": 22, "align": "right", "baseline": "alphabetic", "color": "black"}, "encoding": {"x": {"field": "x", "type": "quantitative"}, "y": {"field": "y", "type": "quantitative"}, "text": {"field": "label"}}}
          ]
        },
        {
          "width": 313, "height": 331,
          "layer": [
            {"data": {"name": "grid"}, "transform": [{"filter": "datum.dir == 'h' && datum.v != 0"}], "mark": {"type": "rule", "color": "black", "strokeWidth": 1, "strokeDash": [1.5, 3.5]},
             "encoding": {"y": {"field": "v", "type": "quantitative", "scale": {"domain": [-40, 120], "nice": false, "zero": false},
               "axis": {"values": [-20, 0, 20, 40, 60, 80, 100], "tickSize": -12, "tickWidth": 1.5, "tickColor": "black", "labels": false, "domain": false, "grid": false, "title": null}}}},
            {"data": {"name": "grid"}, "transform": [{"filter": "datum.dir == 'v' && datum.v != 0"}], "mark": {"type": "rule", "color": "black", "strokeWidth": 1, "strokeDash": [1.5, 3.5]},
             "encoding": {"x": {"field": "v", "type": "quantitative", "scale": {"domain": [-40, 120], "nice": false, "zero": false},
               "axis": {"values": [-20, 0, 20, 40, 60, 80, 100], "tickSize": -5, "tickWidth": 1.5, "tickColor": "black", "labelPadding": 6, "labelExpr": "datum.value == 0 || datum.value == 100 ? datum.label : ''", "labelFont": "DejaVu Serif", "labelFontWeight": "bold", "labelFontSize": 15, "labelColor": "black", "labelFlush": false, "labelOverlap": false, "domain": false, "grid": false, "title": null}}}},
            {"data": {"name": "grid"}, "transform": [{"filter": "datum.dir == 'h' && datum.v == 0"}], "mark": {"type": "rule", "color": "black", "strokeWidth": 1.2, "strokeDash": [12, 4, 2, 4]}, "encoding": {"y": {"field": "v", "type": "quantitative"}}},
            {"data": {"name": "grid"}, "transform": [{"filter": "datum.dir == 'v' && datum.v == 0"}], "mark": {"type": "rule", "color": "black", "strokeWidth": 1.2, "strokeDash": [12, 4, 2, 4]}, "encoding": {"x": {"field": "v", "type": "quantitative"}}},
            {"data": {"name": "diag"}, "mark": {"type": "rule", "color": "black", "strokeWidth": 1.2}, "encoding": {"x": {"field": "x", "type": "quantitative"}, "y": {"field": "y", "type": "quantitative"}, "x2": {"field": "x2"}, "y2": {"field": "y2"}}},
            {"data": {"name": "pts"}, "transform": [{"filter": "datum.r == 'XeSn' && datum.m == 'T'"}], "mark": {"type": "line", "color": "black", "strokeWidth": 1.1}, "encoding": {"x": {"field": "x", "type": "quantitative"}, "y": {"field": "y", "type": "quantitative"}, "detail": {"field": "Z"}, "order": {"field": "i", "type": "quantitative"}}},
            {"data": {"name": "pts"}, "transform": [{"filter": "datum.r == 'XeSn' && datum.m == 'T'"}], "mark": {"type": "point", "stroke": "black", "strokeWidth": 1.3, "size": 85, "opacity": 1}, "encoding": {"x": {"field": "x", "type": "quantitative"}, "y": {"field": "y", "type": "quantitative"}, "shape": {"field": "Z", "type": "nominal", "scale": {"domain": ["Z=1", "Z=2", "Z=3-6", "Z≥7"], "range": ["circle", "triangle-down", "triangle-up", "square"]}, "legend": null}, "fill": {"field": "Z", "type": "nominal", "scale": {"domain": ["Z=1", "Z=2", "Z=3-6", "Z≥7"], "range": ["white", "black", "black", "black"]}, "legend": null}}},
            {"data": {"name": "legend"}, "mark": {"type": "point", "stroke": "black", "strokeWidth": 1.5, "size": 150, "opacity": 1}, "encoding": {"x": {"field": "x", "type": "quantitative"}, "y": {"field": "y", "type": "quantitative"}, "shape": {"field": "Z", "type": "nominal", "legend": null}, "fill": {"field": "Z", "type": "nominal", "legend": null}}},
            {"data": {"name": "legend"}, "mark": {"type": "text", "font": "DejaVu Serif", "fontWeight": "bold", "fontSize": 16, "align": "left", "baseline": "middle", "color": "black"}, "encoding": {"x": {"field": "tx", "type": "quantitative"}, "y": {"field": "y", "type": "quantitative"}, "text": {"field": "Z"}}},
            {"data": {"name": "methods"}, "transform": [{"filter": "datum.r == 'XeSn' && datum.m == 'T'"}], "mark": {"type": "text", "font": "DejaVu Serif", "fontWeight": "bold", "fontSize": 22, "align": "right", "baseline": "alphabetic", "color": "black"}, "encoding": {"x": {"field": "x", "type": "quantitative"}, "y": {"field": "y", "type": "quantitative"}, "text": {"field": "label"}}}
          ]
        },
        {
          "width": 313, "height": 331,
          "layer": [
            {"data": {"name": "grid"}, "transform": [{"filter": "datum.dir == 'h' && datum.v != 0"}], "mark": {"type": "rule", "color": "black", "strokeWidth": 1, "strokeDash": [1.5, 3.5]},
             "encoding": {"y": {"field": "v", "type": "quantitative", "scale": {"domain": [-40, 120], "nice": false, "zero": false},
               "axis": {"values": [-20, 0, 20, 40, 60, 80, 100], "tickSize": -12, "tickWidth": 1.5, "tickColor": "black", "labels": false, "domain": false, "grid": false, "title": null}}}},
            {"data": {"name": "grid"}, "transform": [{"filter": "datum.dir == 'v' && datum.v != 0"}], "mark": {"type": "rule", "color": "black", "strokeWidth": 1, "strokeDash": [1.5, 3.5]},
             "encoding": {"x": {"field": "v", "type": "quantitative", "scale": {"domain": [-40, 120], "nice": false, "zero": false},
               "axis": {"values": [-20, 0, 20, 40, 60, 80, 100], "tickSize": -5, "tickWidth": 1.5, "tickColor": "black", "labelPadding": 6, "labelExpr": "datum.value == 0 || datum.value == 100 ? datum.label : ''", "labelFont": "DejaVu Serif", "labelFontWeight": "bold", "labelFontSize": 15, "labelColor": "black", "labelFlush": false, "labelOverlap": false, "domain": false, "grid": false, "title": "Fᵢₙᵢₜᵢₐₗ (MeV/c/A)", "titleFont": "DejaVu Serif", "titleFontWeight": "bold", "titleFontSize": 25, "titleColor": "black", "titleAnchor": "end", "titlePadding": 3}}}},
            {"data": {"name": "grid"}, "transform": [{"filter": "datum.dir == 'h' && datum.v == 0"}], "mark": {"type": "rule", "color": "black", "strokeWidth": 1.2, "strokeDash": [12, 4, 2, 4]}, "encoding": {"y": {"field": "v", "type": "quantitative"}}},
            {"data": {"name": "grid"}, "transform": [{"filter": "datum.dir == 'v' && datum.v == 0"}], "mark": {"type": "rule", "color": "black", "strokeWidth": 1.2, "strokeDash": [12, 4, 2, 4]}, "encoding": {"x": {"field": "v", "type": "quantitative"}}},
            {"data": {"name": "diag"}, "mark": {"type": "rule", "color": "black", "strokeWidth": 1.2}, "encoding": {"x": {"field": "x", "type": "quantitative"}, "y": {"field": "y", "type": "quantitative"}, "x2": {"field": "x2"}, "y2": {"field": "y2"}}},
            {"data": {"name": "pts"}, "transform": [{"filter": "datum.r == 'XeSn' && datum.m == 'W'"}], "mark": {"type": "line", "color": "black", "strokeWidth": 1.1}, "encoding": {"x": {"field": "x", "type": "quantitative"}, "y": {"field": "y", "type": "quantitative"}, "detail": {"field": "Z"}, "order": {"field": "i", "type": "quantitative"}}},
            {"data": {"name": "pts"}, "transform": [{"filter": "datum.r == 'XeSn' && datum.m == 'W'"}], "mark": {"type": "point", "stroke": "black", "strokeWidth": 1.3, "size": 85, "opacity": 1}, "encoding": {"x": {"field": "x", "type": "quantitative"}, "y": {"field": "y", "type": "quantitative"}, "shape": {"field": "Z", "type": "nominal", "scale": {"domain": ["Z=1", "Z=2", "Z=3-6", "Z≥7"], "range": ["circle", "triangle-down", "triangle-up", "square"]}, "legend": null}, "fill": {"field": "Z", "type": "nominal", "scale": {"domain": ["Z=1", "Z=2", "Z=3-6", "Z≥7"], "range": ["white", "black", "black", "black"]}, "legend": null}}},
            {"data": {"name": "methods"}, "transform": [{"filter": "datum.r == 'XeSn' && datum.m == 'W'"}], "mark": {"type": "text", "font": "DejaVu Serif", "fontWeight": "bold", "fontSize": 22, "align": "right", "baseline": "alphabetic", "color": "black"}, "encoding": {"x": {"field": "x", "type": "quantitative"}, "y": {"field": "y", "type": "quantitative"}, "text": {"field": "label"}}}
          ]
        }
      ]
    }
  ]
}
